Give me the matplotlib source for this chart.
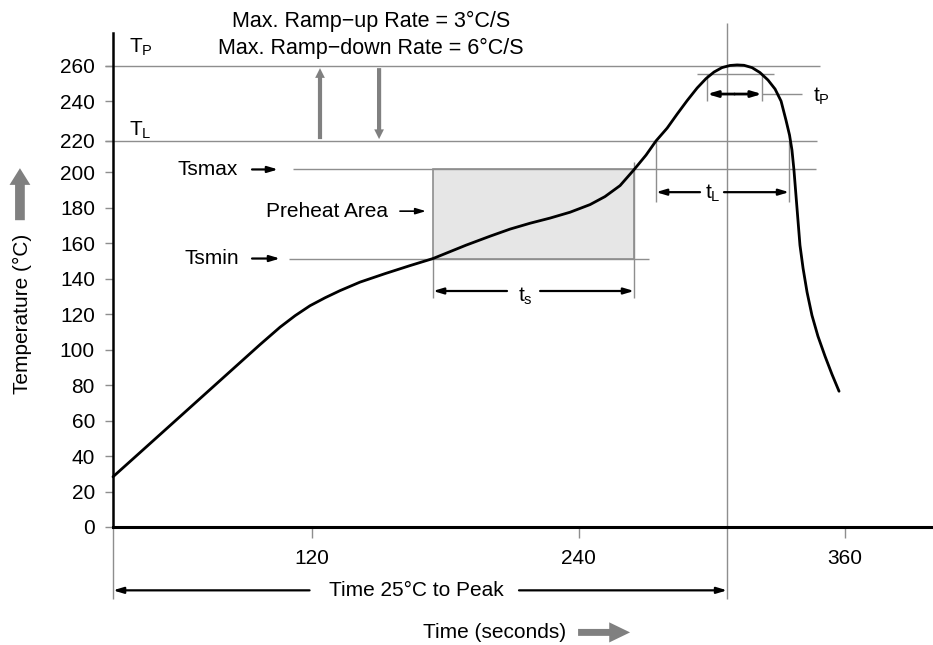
import matplotlib
matplotlib.use("Agg")
import matplotlib.pyplot as plt
from matplotlib.patches import Rectangle

plt.rcParams['font.family'] = ['Liberation Sans', 'DejaVu Sans']
plt.rcParams['mathtext.fontset'] = 'custom'
plt.rcParams['mathtext.rm'] = 'Liberation Sans'
plt.rcParams['mathtext.it'] = 'Liberation Sans'

# ---- data ----
time_s = [30.4, 42.6, 56.1, 69.6, 83.1, 96.6, 105.6, 112.4, 119.1, 125.9,
          132.6, 141.6, 152.9, 164.1, 174.5, 189.3, 200.2, 209.2, 218.2,
          227.2, 236.2, 245.2, 251.9, 258.7, 265.0, 270.4, 274.9, 279.9,
          284.4, 288.9, 293.4, 297.4, 301.0, 304.6, 308.2, 311.4, 314.5,
          318.1, 321.7, 325.3, 328.5, 331.2, 333.4, 335.0, 336.1, 337.0,
          337.9, 338.8, 339.7, 341.1, 342.9, 345.1, 347.8, 351.0, 354.1, 357.3]
temp_c = [28.3, 42.0, 57.2, 72.4, 87.6, 102.8, 112.6, 119.1, 124.7, 129.2,
          133.2, 138.0, 142.8, 147.3, 151.3, 158.8, 163.9, 167.9, 171.2,
          174.1, 177.4, 181.7, 186.2, 192.4, 201.4, 209.6, 217.6, 224.8,
          232.7, 240.3, 247.4, 252.7, 256.4, 258.9, 260.1, 260.4, 260.2,
          258.9, 256.1, 251.9, 246.8, 240.0, 229.3, 220.9, 212.4, 201.1,
          187.0, 172.9, 158.8, 145.8, 132.3, 119.3, 107.5, 96.2, 86.1, 76.5]

T_P = 260.0
T_L = 217.6
TS_MAX = 201.5
TS_MIN = 151.3
TP_LEVEL = 255.2

TS_START, TS_END = 174.5, 265.0
TL_START, TL_END = 274.9, 334.8
TP_START, TP_END = 297.9, 322.6
T_PEAK_LINE = 306.9

x_ticks = [120, 240, 360]
x_tick_labels = ['120', '240', '360']
y_tick_values = [0, 20, 40, 60, 80, 100, 120, 140, 160, 180, 200, T_L, 240, 260]
y_tick_labels = ['0', '20', '40', '60', '80', '100', '120', '140', '160', '180',
                 '200', '220', '240', '260']

GRAY = '#8e8e8e'
ARROW_GRAY = '#808080'
FS = 15

fig = plt.figure(figsize=(9.33, 6.45), dpi=100)
ax = fig.add_axes([113 / 933, 1 - 527 / 645, 1 - 113 / 933, (527 - 33) / 645])
ax.set_xlim(30.4, 399.6)
ax.set_ylim(0, 278.4)

for s in ['top', 'right']:
    ax.spines[s].set_visible(False)
ax.spines['left'].set_linewidth(1.8)
ax.spines['bottom'].set_linewidth(2.2)

ax.set_xticks(x_ticks)
ax.set_xticklabels(x_tick_labels)
ax.set_yticks(y_tick_values)
ax.set_yticklabels(y_tick_labels)
ax.tick_params(axis='x', direction='out', length=8, width=1, color=GRAY,
               pad=8, labelsize=FS)
ax.tick_params(axis='y', direction='out', length=6, width=1, color=GRAY,
               pad=7, labelsize=FS)

def hline(y, x0, x1, color=GRAY, lw=1.0):
    ax.plot([x0, x1], [y, y], color=color, lw=lw, clip_on=False, zorder=2,
            solid_capstyle='butt')

def vline(x, y0, y1, color=GRAY, lw=1.0):
    ax.plot([x, x], [y0, y1], color=color, lw=lw, clip_on=False, zorder=2,
            solid_capstyle='butt')

def arrow(x0, y0, x1, y1, color='black', lw=1.6):
    ax.annotate('', xy=(x1, y1), xytext=(x0, y0),
                arrowprops=dict(arrowstyle='-|>,head_length=0.6,head_width=0.18',
                                color=color, lw=lw, shrinkA=0, shrinkB=0),
                annotation_clip=False, zorder=4)

def fat_arrow(x0, y0, x1, y1, hl=0.7, hw=0.7, tw=0.3, ms=10):
    ax.annotate('', xy=(x1, y1), xytext=(x0, y0),
                arrowprops=dict(arrowstyle=f'simple,head_length={hl},head_width={hw},tail_width={tw}',
                                color=ARROW_GRAY, lw=0, shrinkA=0, shrinkB=0,
                                mutation_scale=ms),
                annotation_clip=False, zorder=4)

# preheat box
ax.add_patch(Rectangle((TS_START, TS_MIN), TS_END - TS_START, TS_MAX - TS_MIN,
                       facecolor='#e6e6e6', edgecolor=GRAY, lw=1.2, zorder=1))

# horizontal reference lines
hline(T_P, 26.8, 348.8)
hline(T_L, 26.8, 347.4)
hline(TS_MAX, 111.4, 346.9)
hline(TS_MIN, 109.6, 271.7)
hline(TP_LEVEL, 293.4, 328.0)

# vertical reference lines
vline(T_PEAK_LINE, -40.3, 284.1)
vline(30.4, -40.3, 0)
vline(TS_START, 129.0, TS_MIN)
vline(TS_END, 129.0, 205.6)
vline(TL_START, 183.1, T_L)
vline(TL_END, 183.1, T_L)
vline(TP_START, 240.0, TP_LEVEL)
vline(TP_END, 240.0, TP_LEVEL)

# profile curve
ax.plot(time_s, temp_c, color='black', lw=2.0, zorder=5, clip_on=False,
        solid_joinstyle='round', solid_capstyle='round')

# T_P / T_L labels
ax.text(37.6, 270.5, r'$\mathregular{T_P}$', fontsize=FS, ha='left', va='center')
ax.text(37.6, 223.8, r'$\mathregular{T_L}$', fontsize=FS, ha='left', va='center')

# ramp rate text and arrows
ax.text(146.6, 285.1, 'Max. Ramp\u2212up Rate = 3\u00b0C/S', fontsize=15.5,
        ha='center', va='center')
ax.text(146.6, 269.9, 'Max. Ramp\u2212down Rate = 6\u00b0C/S', fontsize=15.5,
        ha='center', va='center')
fat_arrow(123.6, 218.6, 123.6, 258.6)
fat_arrow(150.2, 258.6, 150.2, 218.6)

# Tsmax / Preheat / Tsmin labels
ax.text(86.7, TS_MAX, 'Tsmax', fontsize=FS, ha='right', va='center')
arrow(93.0, TS_MAX, 104.7, TS_MAX)
ax.text(154.2, 178.0, 'Preheat Area', fontsize=FS, ha='right', va='center')
arrow(159.6, 178.0, 171.3, 178.0, lw=1.2)
ax.text(87.1, TS_MIN, 'Tsmin', fontsize=FS, ha='right', va='center')
arrow(93.0, TS_MIN, 105.6, TS_MIN)

# t_s
ax.text(215.9, 130.0, r'$\mathregular{t_s}$', fontsize=FS, ha='center', va='center')
arrow(207.8, 133.0, TS_START, 133.0)
arrow(222.7, 133.0, TS_END, 133.0)

# t_L
ax.text(300.6, 188.0, r'$\mathregular{t_L}$', fontsize=FS, ha='center', va='center')
arrow(294.7, 188.7, TL_START, 188.7)
arrow(305.5, 188.7, TL_END, 188.7)

# t_P
mid_tp = (TP_START + TP_END) / 2
arrow(mid_tp, 244.0, TP_START, 244.0, lw=2.0)
arrow(mid_tp, 244.0, TP_END, 244.0, lw=2.0)
hline(244.0, TP_END, 340.7)
ax.text(345.6, 242.8, r'$\mathregular{t_P}$', fontsize=FS, ha='left', va='center')

# Time 25C to Peak
ax.text(166.8, -35.7, 'Time 25\u00b0C to Peak', fontsize=FS, ha='center', va='center')
arrow(118.9, -35.7, 30.4, -35.7)
arrow(213.2, -35.7, T_PEAK_LINE, -35.7)

# axis titles with gray arrows
ax.text(202.4, -59.4, 'Time (seconds)', fontsize=FS, ha='center', va='center')
fat_arrow(239.8, -59.4, 263.2, -59.4, hl=1.5, hw=1.45, tw=0.5, ms=10)
ax.text(-10.5, 120.2, 'Temperature (\u00b0C)', fontsize=FS, ha='center',
        va='center', rotation=90)
fat_arrow(-11.5, 172.9, -11.5, 202.2, hl=1.2, hw=1.5, tw=0.7, ms=10)

fig.savefig('out.png', dpi=100)
